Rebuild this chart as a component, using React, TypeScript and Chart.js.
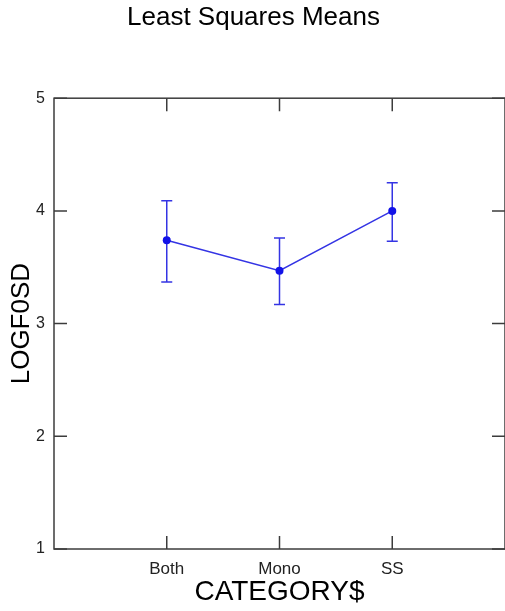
import { useEffect, useRef } from "react";
import { Chart, registerables } from "chart.js";

Chart.register(...registerables);

const categories = ["Both", "Mono", "SS"];
const xPositions = [1, 2, 3];
const means = [3.74, 3.47, 4.0];
const upper = [4.09, 3.76, 4.25];
const lower = [3.37, 3.17, 3.73];
const yTicks = [1, 2, 3, 4, 5];

const FONT = "'Liberation Sans', Arial, sans-serif";
const LINE_COLOR = "#3434e4";
const POINT_COLOR = "#1212e8";
const FRAME_COLOR = "#3c3c3c";

const errorBarPlugin = {
  id: "errorBars",
  beforeDatasetsDraw(chart: any) {
    const { ctx, scales } = chart;
    const x = scales.x;
    const y = scales.y;
    ctx.save();
    ctx.strokeStyle = LINE_COLOR;
    ctx.lineWidth = 1.5;
    ctx.beginPath();
    xPositions.forEach((xv, i) => {
      const px = x.getPixelForValue(xv);
      const pu = y.getPixelForValue(upper[i]);
      const pl = y.getPixelForValue(lower[i]);
      const cap = 5.5;
      ctx.moveTo(px, pu);
      ctx.lineTo(px, pl);
      ctx.moveTo(px - cap, pu);
      ctx.lineTo(px + cap, pu);
      ctx.moveTo(px - cap, pl);
      ctx.lineTo(px + cap, pl);
    });
    ctx.stroke();
    ctx.restore();
  },
};

const framePlugin = {
  id: "frame",
  afterDraw(chart: any) {
    const { ctx, chartArea, scales } = chart;
    const { left, right, top, bottom } = chartArea;
    const x = scales.x;
    const y = scales.y;
    const tl = 13;
    ctx.save();
    ctx.strokeStyle = FRAME_COLOR;
    ctx.lineWidth = 1.5;
    ctx.strokeRect(left, top, right - left, bottom - top);
    ctx.beginPath();
    yTicks.forEach((v) => {
      const py = y.getPixelForValue(v);
      ctx.moveTo(left, py);
      ctx.lineTo(left + tl, py);
      ctx.moveTo(right, py);
      ctx.lineTo(right - tl, py);
    });
    xPositions.forEach((v) => {
      const px = x.getPixelForValue(v);
      ctx.moveTo(px, top);
      ctx.lineTo(px, top + tl);
      ctx.moveTo(px, bottom);
      ctx.lineTo(px, bottom - tl);
    });
    ctx.stroke();
    ctx.restore();
  },
};

export default function App() {
  const canvasRef = useRef<HTMLCanvasElement | null>(null);

  useEffect(() => {
    const canvas = canvasRef.current;
    if (!canvas) return;
    const chart = new Chart(canvas, {
      type: "line",
      data: {
        datasets: [
          {
            label: "LOGF0SD",
            data: means.map((m, i) => ({ x: xPositions[i], y: m })),
            borderColor: LINE_COLOR,
            borderWidth: 1.5,
            pointRadius: 4,
            pointBackgroundColor: POINT_COLOR,
            pointBorderColor: POINT_COLOR,
            pointBorderWidth: 0,
            tension: 0,
            fill: false,
          },
        ],
      },
      options: {
        responsive: false,
        animation: false,
        devicePixelRatio: 1,
        layout: { autoPadding: false, padding: { left: 0, right: -2, top: 0, bottom: 0 } },
        plugins: {
          legend: { display: false },
          tooltip: { enabled: false },
          title: {
            display: true,
            text: "Least Squares Means",
            color: "#000",
            font: { family: FONT, size: 26, weight: "normal" },
            padding: { top: 2, bottom: 65 },
          },
        },
        scales: {
          x: {
            type: "linear",
            min: 0,
            max: 4,
            grid: { display: false, drawTicks: false },
            border: { display: false },
            afterFit: (scale: any) => {
              scale.height = 62;
              scale.paddingLeft = 0;
              scale.paddingRight = -2;
            },
            ticks: {
              stepSize: 1,
              autoSkip: false,
              maxRotation: 0,
              padding: 10,
              color: "#222",
              font: { family: FONT, size: 17 },
              callback: (v: any) => {
                const i = xPositions.indexOf(Number(v));
                return i >= 0 ? categories[i] : "";
              },
            },
            title: {
              display: true,
              text: "CATEGORY$",
              color: "#000",
              font: { family: FONT, size: 28 },
              padding: { top: 0, bottom: 2 },
            },
          },
          y: {
            type: "linear",
            min: 1,
            max: 5,
            grid: { display: false, drawTicks: false },
            border: { display: false },
            afterFit: (scale: any) => {
              scale.width = 54;
            },
            ticks: {
              stepSize: 1,
              padding: 9,
              color: "#222",
              font: { family: FONT, size: 16 },
            },
            title: {
              display: true,
              text: "LOGF0SD",
              color: "#000",
              font: { family: FONT, size: 26 },
              padding: { top: 6, bottom: 0 },
            },
          },
        },
      },
      plugins: [errorBarPlugin, framePlugin],
    });
    return () => chart.destroy();
  }, []);

  return (
    <div
      style={{
        position: "fixed",
        left: 0,
        top: 0,
        width: 505,
        height: 611,
        overflow: "hidden",
        background: "#fff",
      }}
    >
      <canvas ref={canvasRef} width={505} height={611} style={{ display: "block" }} />
    </div>
  );
}
